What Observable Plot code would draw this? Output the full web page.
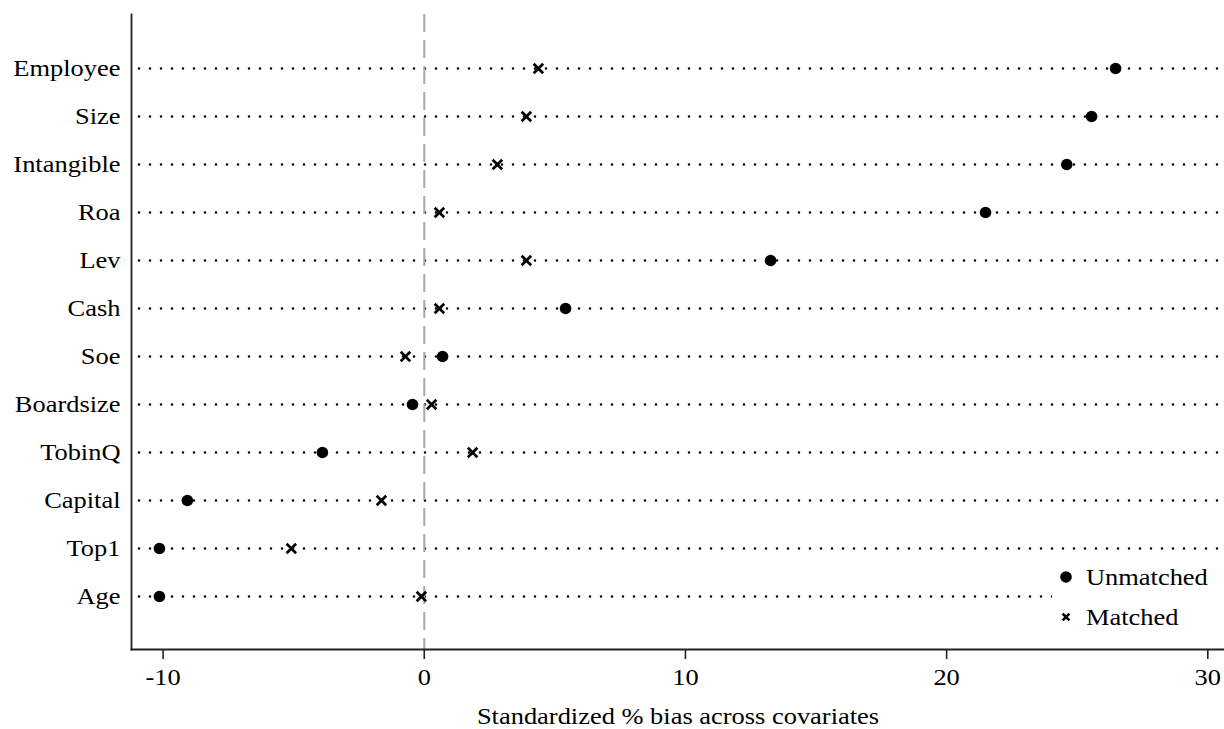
<!DOCTYPE html>
<html>
<head>
<meta charset="utf-8">
<script src="https://cdn.jsdelivr.net/npm/d3@7"></script>
<script src="https://cdn.jsdelivr.net/npm/@observablehq/plot@0.6"></script>
<style>
  html, body { margin: 0; padding: 0; background: #fff; }
  #wrap { position: relative; width: 1224px; height: 729px; }
  #legend { position: absolute; left: 1052px; top: 560px; }
</style>
</head>
<body>
<div id="wrap"><div id="legend"></div></div>
<script>
// ---- data ----
const categories = ["Employee","Size","Intangible","Roa","Lev","Cash","Soe","Boardsize","TobinQ","Capital","Top1","Age"];
const unmatched = [26.47, 25.55, 24.6, 21.49, 13.26, 5.41, 0.70, -0.45, -3.90, -9.07, -10.14, -10.14];
const matched   = [4.37, 3.91, 2.80, 0.58, 3.91, 0.58, -0.72, 0.28, 1.85, -1.64, -5.09, -0.11];
const xTicks = [-10, 0, 10, 20, 30];
const seriesNames = ["Unmatched", "Matched"];
const xLabel = "Standardized % bias across covariates";

const rows = categories.map((c, i) => ({cat: c, unmatched: unmatched[i], matched: matched[i]}));

const FONT = "'Liberation Serif', 'Times New Roman', serif";
const STRETCH = 1.15;

const chart = Plot.plot({
  width: 1224,
  height: 729,
  marginLeft: 131,
  marginRight: 0,
  marginTop: 14,
  marginBottom: 80,
  style: {fontFamily: FONT, fontSize: "23px", color: "#000", background: "white", overflow: "visible"},
  x: {domain: [-11.21, 30.64]},
  y: {type: "point", domain: categories, padding: 1.02},
  marks: [
    Plot.ruleY(categories, {stroke: "#000", strokeWidth: 2.6, strokeDasharray: "0,11", strokeDashoffset: 3, strokeLinecap: "round"}),
    Plot.ruleX([0], {stroke: "#a8a8a8", strokeWidth: 2, strokeDasharray: "18,8"}),
    Plot.frame({anchor: "left", stroke: "#222", strokeWidth: 1.8}),
    Plot.frame({anchor: "bottom", stroke: "#222", strokeWidth: 1.8}),
    Plot.axisX({ticks: xTicks, tickFormat: d => String(d), tickSize: 10, tickPadding: 9, stroke: "#222", strokeWidth: 1.6,
      label: xLabel, labelAnchor: "center", labelArrow: "none", labelOffset: 74, fontSize: 23}),
    Plot.axisY({tickSize: 0, tickPadding: 11, label: null, fontSize: 23}),
    Plot.dot(rows, {x: "matched", y: "cat", symbol: "times", r: 4.4, stroke: "#000", strokeWidth: 2.7}),
    Plot.dot(rows, {x: "unmatched", y: "cat", r: 5.8, fill: "#000", stroke: null})
  ]
});

document.getElementById("wrap").prepend(chart);

// horizontal stretch of text around its horizontal anchor
function stretch(el) {
  const t = el.getAttribute("transform") || "";
  const xa = el.getAttribute("x");
  const x0 = xa && /^-?[\d.]+$/.test(xa.trim()) ? +xa : 0;
  el.setAttribute("transform", `${t} translate(${x0},0) scale(${STRETCH},1) translate(${-x0},0)`);
}
chart.querySelectorAll("text").forEach(stretch);

// legend
const lg = d3.select("#legend").append("svg")
  .attr("width", 172).attr("height", 75)
  .style("background", "#fff").style("display", "block");
lg.append("circle").attr("cx", 14).attr("cy", 17).attr("r", 5.8).attr("fill", "#000");
const s = 3.4, cx = 14, cy = 57;
lg.append("path")
  .attr("d", `M${cx - s},${cy - s}L${cx + s},${cy + s}M${cx + s},${cy - s}L${cx - s},${cy + s}`)
  .attr("stroke", "#000").attr("stroke-width", 2.7).attr("fill", "none");
lg.selectAll("text.lab").data(seriesNames).join("text")
  .attr("class", "lab")
  .attr("x", 34).attr("y", (d, i) => 17 + i * 40)
  .attr("dy", "0.35em")
  .attr("font-family", FONT).attr("font-size", 23).attr("fill", "#000")
  .text(d => d)
  .each(function() { stretch(this); });
</script>
</body>
</html>
